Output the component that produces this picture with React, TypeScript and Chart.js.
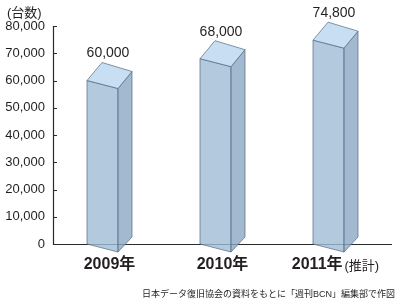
import React, { useEffect, useRef } from "react";
import { Chart, registerables } from "chart.js";

Chart.register(...registerables);

const categories = ["2009年", "2010年", "2011年"];
const categoryNotes = ["", "", "(推計)"];
const units = [60000, 68000, 74800];
const valueLabels = ["60,000", "68,000", "74,800"];
const yTickValues = [0, 10000, 20000, 30000, 40000, 50000, 60000, 70000, 80000];
const unitLabel = "(台数)";
const sourceNote = "日本データ復旧協会の資料をもとに「週刊BCN」編集部で作図";

const FONT = '"Liberation Sans", Arial, "Noto Sans CJK JP", sans-serif';
const TEXT = "#231f20";

const prismPlugin = {
  id: "prism3d",
  afterDatasetsDraw(chart: any) {
    const ctx = chart.ctx as CanvasRenderingContext2D;
    const { left, right, top, bottom } = chart.chartArea;
    const ys = chart.scales.y;
    const xs = chart.scales.x;
    ctx.save();

    // axes
    ctx.strokeStyle = "#2a2a2a";
    ctx.lineWidth = 1.2;
    ctx.beginPath();
    ctx.moveTo(left + 0.5, top);
    ctx.lineTo(left + 0.5, bottom + 0.5);
    ys.ticks.forEach((t: any) => {
      const py = Math.round(ys.getPixelForValue(t.value)) + 0.5;
      ctx.moveTo(left, py);
      ctx.lineTo(left + 4, py);
    });
    ctx.moveTo(left, bottom + 0.5);
    ctx.lineTo(right, bottom + 0.5);
    ctx.stroke();

    // prisms
    const meta = chart.getDatasetMeta(0);
    meta.data.forEach((bar: any, i: number) => {
      const w = bar.width;
      const L = bar.x - w / 2;
      const side = 14;
      const fw = w - side;
      const yt = bar.y;
      const b = bar.base;
      ctx.lineJoin = "round";
      ctx.lineWidth = 0.8;
      ctx.strokeStyle = "rgba(85,108,132,0.9)";
      // front
      ctx.beginPath();
      ctx.moveTo(L, yt);
      ctx.lineTo(L + fw, yt + 8);
      ctx.lineTo(L + fw, b + 8);
      ctx.lineTo(L, b);
      ctx.closePath();
      ctx.fillStyle = "rgba(160,188,213,0.8)";
      ctx.fill();
      ctx.stroke();
      // side
      ctx.beginPath();
      ctx.moveTo(L + fw, yt + 8);
      ctx.lineTo(L + w, yt - 9);
      ctx.lineTo(L + w, b - 7);
      ctx.lineTo(L + fw, b + 8);
      ctx.closePath();
      ctx.fillStyle = "rgba(139,168,195,0.8)";
      ctx.fill();
      ctx.stroke();
      // top
      ctx.beginPath();
      ctx.moveTo(L, yt);
      ctx.lineTo(L + 15, yt - 18);
      ctx.lineTo(L + w, yt - 9);
      ctx.lineTo(L + fw, yt + 8);
      ctx.closePath();
      ctx.fillStyle = "rgba(190,216,240,0.85)";
      ctx.fill();
      ctx.stroke();

      // value label
      ctx.fillStyle = TEXT;
      ctx.font = `14px ${FONT}`;
      ctx.textAlign = "center";
      ctx.textBaseline = "middle";
      ctx.fillText(valueLabels[i], L + 21, yt - 27);
    });

    // category labels
    categories.forEach((c, i) => {
      const cx = xs.getPixelForValue(i);
      const cy = 265;
      ctx.fillStyle = TEXT;
      ctx.textBaseline = "middle";
      ctx.font = `bold 16px ${FONT}`;
      const w1 = ctx.measureText(c).width;
      const note = categoryNotes[i];
      let w2 = 0;
      const gap = note ? 2 : 0;
      if (note) {
        ctx.font = `13px ${FONT}`;
        w2 = ctx.measureText(note).width;
      }
      const start = cx - (w1 + gap + w2) / 2;
      ctx.textAlign = "left";
      ctx.font = `bold 16px ${FONT}`;
      ctx.fillText(c, start, cy);
      if (note) {
        ctx.font = `13px ${FONT}`;
        ctx.fillText(note, start + w1 + gap, cy + 1);
      }
    });

    // unit label
    ctx.font = `13px ${FONT}`;
    ctx.textAlign = "left";
    ctx.textBaseline = "middle";
    ctx.fillText(unitLabel, 7, 13);

    // source
    ctx.font = `9px ${FONT}`;
    ctx.textAlign = "right";
    ctx.fillText(sourceNote, 395, 295);

    ctx.restore();
  },
};

export default function App() {
  const ref = useRef<HTMLCanvasElement | null>(null);
  useEffect(() => {
    if (!ref.current) return;
    const chart = new Chart(ref.current, {
      type: "bar",
      data: {
        labels: categories,
        datasets: [
          {
            data: units,
            backgroundColor: "rgba(0,0,0,0)",
            borderWidth: 0,
            barThickness: 45,
          },
        ],
      },
      options: {
        responsive: false,
        animation: false,
        events: [],
        layout: { padding: { top: 26, right: 8, left: 0, bottom: 0 } },
        plugins: { legend: { display: false }, tooltip: { enabled: false } },
        scales: {
          x: {
            grid: { display: false, drawTicks: false },
            border: { display: false },
            ticks: { display: false },
            afterFit: (s: any) => {
              s.height = 61;
            },
          },
          y: {
            min: 0,
            max: 80000,
            afterBuildTicks: (s: any) => {
              s.ticks = yTickValues.map((v) => ({ value: v }));
            },
            grid: { display: false, drawTicks: false },
            border: { display: false },
            ticks: {
              padding: 8,
              color: TEXT,
              font: { size: 13, family: FONT },
              callback: (v: any) => Number(v).toLocaleString("en-US"),
            },
            afterFit: (s: any) => {
              s.width = 53;
            },
          },
        },
      },
      plugins: [prismPlugin],
    });
    return () => chart.destroy();
  }, []);
  return (
    <div style={{ position: "absolute", left: 0, top: 0, width: 400, height: 305, background: "#fff" }}>
      <canvas ref={ref} width={400} height={305} style={{ display: "block" }} />
    </div>
  );
}
